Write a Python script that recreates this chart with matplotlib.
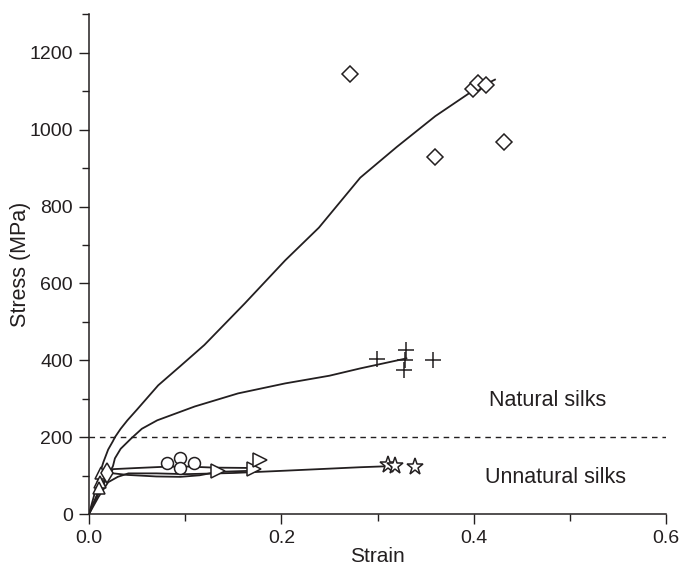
import matplotlib
matplotlib.use("Agg")
import matplotlib.pyplot as plt
from matplotlib.ticker import MultipleLocator

plt.rcParams['font.family'] = ['Liberation Sans', 'DejaVu Sans']
INK = '#231f20'

# Stress-strain curves (strain, stress in MPa)
dragline_strain = [0, 0.005, 0.010, 0.015, 0.020, 0.025, 0.027, 0.033, 0.040, 0.050, 0.072,
                   0.095, 0.120, 0.162, 0.204, 0.239, 0.282, 0.320, 0.360, 0.399, 0.422]
dragline_stress = [0, 45, 95, 135, 168, 190, 200, 222, 244, 272, 335,
                   385, 440, 548, 660, 745, 875, 955, 1035, 1101, 1130]

cross_strain = [0, 0.005, 0.010, 0.015, 0.020, 0.025, 0.027, 0.033, 0.044, 0.055, 0.071,
                0.110, 0.155, 0.204, 0.250, 0.282, 0.330]
cross_stress = [0, 30, 60, 85, 100, 125, 145, 170, 197, 222, 244,
                280, 314, 340, 360, 379, 405]

circle_strain = [0, 0.008, 0.015, 0.020, 0.025, 0.050, 0.077, 0.100, 0.130, 0.172]
circle_stress = [0, 45, 80, 100, 117, 120, 123, 124, 121, 120]

tri_strain = [0, 0.010, 0.018, 0.022, 0.040, 0.070, 0.095, 0.115, 0.134, 0.172]
tri_stress = [0, 55, 90, 107, 102, 98, 97, 101, 110, 113]

star_strain = [0, 0.010, 0.020, 0.030, 0.041, 0.070, 0.100, 0.150, 0.204, 0.282, 0.315]
star_stress = [0, 45, 83, 97, 106, 106, 104, 107, 113, 122, 125]

# Individual measurements
diamond_x = [0.271, 0.360, 0.431, 0.399, 0.404, 0.413]
diamond_y = [1145, 930, 969, 1106, 1122, 1117]

plus_x = [0.299, 0.330, 0.329, 0.327, 0.358]
plus_y = [403, 428, 400, 374, 400]

circ_x = [0.081, 0.095, 0.095, 0.109]
circ_y = [132, 145, 120, 132]

rtri_x = [0.134, 0.172, 0.178]
rtri_y = [113, 118, 141]

star_x = [0.311, 0.318, 0.339]
star_y = [127, 125, 122]

utri_x = [0.0125, 0.011, 0.010]
utri_y = [106, 83, 68]

thin_x = [0.019]
thin_y = [106]

threshold = 200

fig = plt.figure(figsize=(6.84, 5.70), dpi=100)
ax = fig.add_axes([0.130, 0.098, 0.844, 0.877])

lw = 1.3
for xs, ys in [(dragline_strain, dragline_stress), (cross_strain, cross_stress),
               (circle_strain, circle_stress), (tri_strain, tri_stress),
               (star_strain, star_stress)]:
    ax.plot(xs, ys, color=INK, lw=lw, solid_joinstyle='round', zorder=2)

ax.axhline(threshold, color=INK, lw=1.0, ls=(0, (4, 3.5)), zorder=1)

mk = dict(ls='none', mfc='white', mec=INK, mew=1.1, zorder=3)
ax.plot(diamond_x, diamond_y, marker='D', ms=8.0, **mk)
ax.plot(circ_x, circ_y, marker='o', ms=8.6, **mk)
ax.plot(rtri_x, rtri_y, marker='>', ms=10, **mk)
ax.plot(star_x, star_y, marker='*', ms=12.5, **mk)
ax.plot(utri_x, utri_y, marker='^', ms=9, **mk)
ax.plot(thin_x, thin_y, marker='d', ms=10, **mk)
ax.plot(plus_x, plus_y, ls='none', marker='+', ms=11, mew=1.1, color=INK, zorder=3)

ax.text(0.477, 296, 'Natural silks', ha='center', va='center', fontsize=15.5, color=INK)
ax.text(0.485, 96, 'Unnatural silks', ha='center', va='center', fontsize=15.5, color=INK)

ax.set_xlim(0, 0.6)
ax.set_ylim(0, 1300)
ax.xaxis.set_major_locator(MultipleLocator(0.2))
ax.xaxis.set_minor_locator(MultipleLocator(0.1))
ax.yaxis.set_major_locator(MultipleLocator(200))
ax.yaxis.set_minor_locator(MultipleLocator(100))
ax.set_xticks([0, 0.2, 0.4, 0.6])
ax.set_xticklabels(['0.0', '0.2', '0.4', '0.6'])

for s in ['top', 'right']:
    ax.spines[s].set_visible(False)
for s in ['left', 'bottom']:
    ax.spines[s].set_color(INK)
    ax.spines[s].set_linewidth(1.1)
ax.tick_params(which='major', direction='out', length=7.5, width=1.0, colors=INK,
               labelsize=14, pad=4)
ax.tick_params(which='minor', direction='out', length=5, width=1.0, colors=INK)

ax.set_xlabel('Strain', fontsize=15, color=INK, labelpad=0)
ax.set_ylabel('Stress (MPa)', fontsize=15.5, color=INK, labelpad=-1)

fig.savefig('out.png', dpi=100)
